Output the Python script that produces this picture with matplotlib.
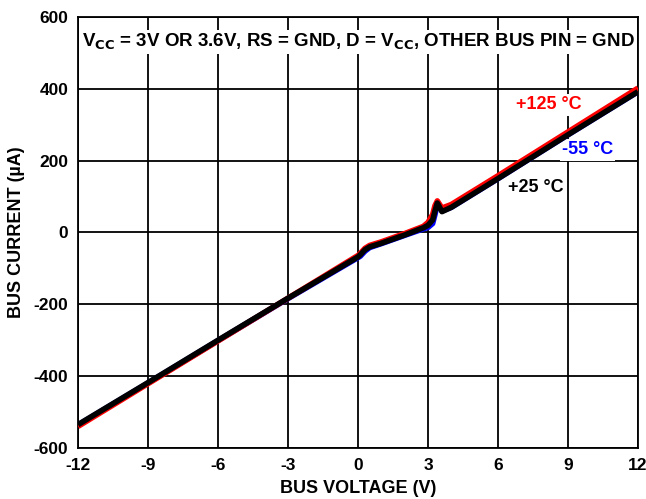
import matplotlib.pyplot as plt

plt.rcParams['font.family'] = ['Liberation Sans', 'DejaVu Sans']
plt.rcParams['font.weight'] = 'bold'
plt.rcParams['axes.unicode_minus'] = False

# bus voltage (V)
volts = [-12, -9, -6, -3, 0, 0.1, 0.3, 0.5, 1, 2, 2.8, 3.0, 3.2, 3.3, 3.4, 3.5, 3.6, 4, 6, 9, 12]
# bus current (uA) per temperature
i_25 = [-535, -418, -300, -183, -68, -62, -48, -40, -30, -7, 13, 20, 35, 60, 82, 70, 58, 70, 150, 272, 392]
i_125 = [-540, -421, -302, -183, -64, -58, -44, -36, -26, -3, 17, 28, 50, 75, 88, 78, 68, 78, 158, 280, 402]
i_m55 = [-536, -419, -301, -184, -70, -66, -52, -42, -31, -8, 10, 14, 25, 50, 78, 72, 60, 70, 150, 272, 392]

x_ticks = [-12, -9, -6, -3, 0, 3, 6, 9, 12]
y_ticks = [-600, -400, -200, 0, 200, 400, 600]

fig = plt.figure(figsize=(6.46, 4.99), dpi=100)
ax = fig.add_axes([0.1207, 0.1022, 0.8669, 0.8638])

ax.plot(volts, i_m55, color='#0000ff', lw=4, solid_capstyle='butt', zorder=3)
ax.plot(volts, i_125, color='#ff0000', lw=4, solid_capstyle='butt', zorder=4)
ax.plot(volts, i_25, color='black', lw=4, solid_capstyle='butt', zorder=5)

ax.set_xlim(-12, 12)
ax.set_ylim(-600, 600)
ax.set_xticks(x_ticks)
ax.set_yticks(y_ticks)
ax.grid(True, color='black', lw=1.3)
ax.set_axisbelow(True)
for s in ax.spines.values():
    s.set_linewidth(1.3)
ax.tick_params(length=0, labelsize=12.5, pad=7)
for lab in ax.get_xticklabels() + ax.get_yticklabels():
    lab.set_fontweight('bold')

ax.set_xlabel('BUS VOLTAGE (V)', fontsize=13, fontweight='bold', labelpad=5)
ax.set_ylabel('BUS CURRENT (µA)', fontsize=13, fontweight='bold', labelpad=6)

box = dict(facecolor='white', edgecolor='none', pad=1.5)
ax.text(0, 530, r'V$_{\mathbf{CC}}$ = 3V OR 3.6V, RS = GND, D = V$_{\mathbf{CC}}$, OTHER BUS PIN = GND',
        ha='center', va='center', fontsize=13.5, fontweight='bold', bbox=box, zorder=2.5)
ax.text(8.17, 355, '+125 °C', color='#ff0000', ha='center', va='center', fontsize=13,
        fontweight='bold', bbox=box, zorder=2.5)
ax.text(9.84, 230, '-55 °C', color='#0000ff', ha='center', va='center', fontsize=13,
        fontweight='bold', bbox=box, zorder=2.5)
ax.text(7.61, 124, '+25 °C', color='black', ha='center', va='center', fontsize=13,
        fontweight='bold', bbox=box, zorder=2.5)

fig.savefig('out.png', dpi=100)
